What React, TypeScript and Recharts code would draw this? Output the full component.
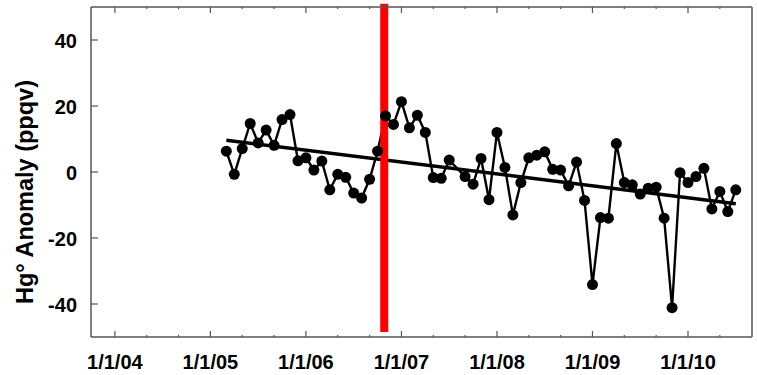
import React from 'react';
import { LineChart, Line, XAxis, YAxis, ReferenceLine } from 'recharts';

// monthly Hg anomaly (ppqv); Aug 2007 has no value
const months = [
  '2005-03', '2005-04', '2005-05', '2005-06', '2005-07', '2005-08', '2005-09', '2005-10', '2005-11', '2005-12',
  '2006-01', '2006-02', '2006-03', '2006-04', '2006-05', '2006-06', '2006-07', '2006-08', '2006-09', '2006-10', '2006-11', '2006-12',
  '2007-01', '2007-02', '2007-03', '2007-04', '2007-05', '2007-06', '2007-07', '2007-09', '2007-10', '2007-11', '2007-12',
  '2008-01', '2008-02', '2008-03', '2008-04', '2008-05', '2008-06', '2008-07', '2008-08', '2008-09', '2008-10', '2008-11', '2008-12',
  '2009-01', '2009-02', '2009-03', '2009-04', '2009-05', '2009-06', '2009-07', '2009-08', '2009-09', '2009-10', '2009-11', '2009-12',
  '2010-01', '2010-02', '2010-03', '2010-04', '2010-05', '2010-06', '2010-07',
];
const anomaly = [
  6.3, -0.7, 7.1, 14.7, 8.8, 12.7, 8.1, 15.9, 17.4, 3.4,
  4.3, 0.6, 3.3, -5.4, -0.7, -1.6, -6.4, -7.9, -2.2, 6.3, 17.0, 14.4,
  21.3, 13.4, 17.2, 12.0, -1.7, -1.9, 3.6, -1.4, -3.7, 4.1, -8.4,
  12.0, 1.4, -13.0, -3.2, 4.3, 5.1, 6.1, 0.8, 0.6, -4.2, 3.0, -8.6,
  -34.1, -13.8, -14.0, 8.6, -3.2, -3.9, -6.7, -4.9, -4.6, -14.0, -41.1, -0.2,
  -3.2, -1.4, 1.1, -11.2, -5.9, -12.0, -5.4,
];
// linear trend, end points
const trendMonths = ['2005-03', '2010-07'];
const trendValues = [9.6, -9.6];
// the red marker
const eventYear = 2006.82;

const xDomain = [2003.75, 2010.67];
const yDomain = [-50, 50];
const yTicks = [-40, -20, 0, 20, 40];
const xTicks: number[] = [];
for (let yr = 2004; yr <= 2010; yr++) {
  xTicks.push(yr, yr + 1 / 3, yr + 2 / 3);
}
const xTicksShown = xTicks.filter((t) => t < xDomain[1] - 0.01);

const toYear = (m: string) => {
  const [y, mo] = m.split('-').map(Number);
  return y + (mo - 1) / 12;
};

const series = months.map((m, i) => ({ t: toYear(m), v: anomaly[i] }));
const trend = trendMonths.map((m, i) => ({ t: toYear(m), v: trendValues[i] }));

const FONT = '"Liberation Sans", Arial, sans-serif';
const AXIS = '#555';

const isMajor = (v: number) => Math.abs(v - Math.round(v)) < 0.01;
const fmtDate = (v: number) => `1/1/${String(Math.round(v) % 100).padStart(2, '0')}`;

const BottomTick = (props: any) => {
  const { x, y, payload } = props;
  const major = isMajor(payload.value);
  return (
    <g>
      <line x1={x} x2={x} y1={y} y2={y - (major ? 6 : 2)} stroke={AXIS} strokeWidth={1.2} />
      {major && (
        <text x={x} y={y + 32} textAnchor="middle" fontFamily={FONT} fontWeight="bold" fontSize={20} fill="#000">
          {fmtDate(payload.value)}
        </text>
      )}
    </g>
  );
};

const TopTick = (props: any) => {
  const { x, y, payload } = props;
  const major = isMajor(payload.value);
  return <line x1={x} x2={x} y1={y} y2={y + (major ? 6 : 2)} stroke={AXIS} strokeWidth={1.2} />;
};

const LeftTick = (props: any) => {
  const { x, y, payload } = props;
  return (
    <g>
      <line x1={x} x2={x + 7} y1={y} y2={y} stroke={AXIS} strokeWidth={1.2} />
      <text x={x - 14} y={y + 8} textAnchor="end" fontFamily={FONT} fontWeight="bold" fontSize={20} fill="#000">
        {payload.value}
      </text>
    </g>
  );
};

const RightTick = (props: any) => {
  const { x, y } = props;
  return <line x1={x} x2={x - 7} y1={y} y2={y} stroke={AXIS} strokeWidth={1.2} />;
};

const TitleLabel = (props: any) => {
  const vb = props.viewBox || { x: 0, y: 0, width: 91, height: 330 };
  const cx = vb.x + 33;
  const cy = vb.y + vb.height / 2 + 20;
  return (
    <text
      x={cx}
      y={cy}
      transform={`rotate(-90 ${cx} ${cy})`}
      textAnchor="middle"
      fontFamily={FONT}
      fontWeight="bold"
      fontSize={23.5}
      fill="#000"
    >
      Hg° Anomaly (ppqv)
    </text>
  );
};

export default function App() {
  return (
    <div style={{ position: 'absolute', left: 0, top: 0, background: '#fff' }}>
      <LineChart width={757} height={375} margin={{ top: 0, right: 0, bottom: 0, left: 0 }}>
        <XAxis
          dataKey="t"
          type="number"
          domain={xDomain}
          allowDataOverflow
          ticks={xTicksShown}
          interval={0}
          height={38}
          tickSize={0}
          tickMargin={0}
          tickLine={false}
          tick={<BottomTick />}
          axisLine={{ stroke: AXIS, strokeWidth: 1.5 }}
        />
        <XAxis
          xAxisId="top"
          orientation="top"
          dataKey="t"
          type="number"
          domain={xDomain}
          allowDataOverflow
          ticks={xTicksShown}
          interval={0}
          height={7}
          tickSize={0}
          tickMargin={0}
          tickLine={false}
          tick={<TopTick />}
          axisLine={{ stroke: AXIS, strokeWidth: 1.5 }}
        />
        <YAxis
          type="number"
          domain={yDomain}
          ticks={yTicks}
          interval={0}
          width={91}
          tickSize={0}
          tickMargin={0}
          tickLine={false}
          tick={<LeftTick />}
          axisLine={{ stroke: AXIS, strokeWidth: 1.5 }}
          label={<TitleLabel />}
        />
        <YAxis
          yAxisId="right"
          orientation="right"
          type="number"
          domain={yDomain}
          ticks={yTicks}
          interval={0}
          width={5}
          tickSize={0}
          tickMargin={0}
          tickLine={false}
          tick={<RightTick />}
          axisLine={{ stroke: AXIS, strokeWidth: 1.5 }}
        />
        <Line
          data={trend}
          dataKey="v"
          stroke="#000"
          strokeWidth={3.5}
          dot={false}
          isAnimationActive={false}
        />
        <Line
          data={series}
          dataKey="v"
          type="linear"
          stroke="#000"
          strokeWidth={2.4}
          dot={{ r: 5.5, fill: '#000', stroke: '#000', strokeWidth: 0 }}
          activeDot={false}
          isAnimationActive={false}
        />
        <ReferenceLine
          segment={[
            { x: eventYear, y: 51 },
            { x: eventYear, y: -48.5 },
          ]}
          ifOverflow="visible"
          stroke="#ff0000"
          strokeWidth={8}
        />
      </LineChart>
    </div>
  );
}
